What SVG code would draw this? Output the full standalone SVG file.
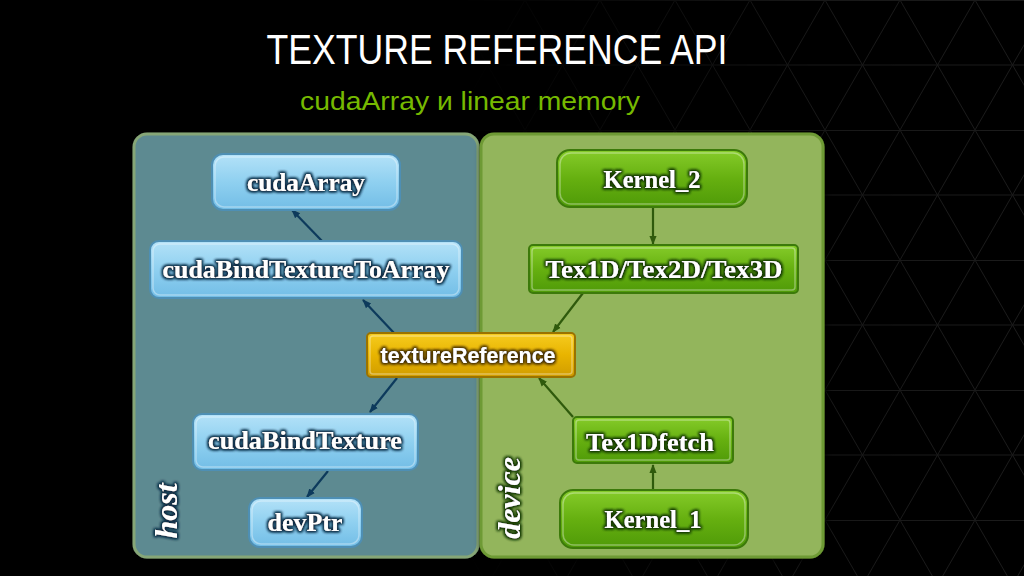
<svg xmlns="http://www.w3.org/2000/svg" width="1024" height="576" viewBox="0 0 1024 576">
<defs>
  <pattern id="tri" x="0" y="0" width="75" height="130" patternUnits="userSpaceOnUse">
    <path d="M0 0 L37.5 65 L0 130 M75 0 L37.5 65 L75 130 M0 0.5 H75 M0 65 H75" fill="none" stroke="#222222" stroke-width="1"/>
  </pattern>
  <linearGradient id="fadeG" x1="0" y1="0" x2="1" y2="0">
    <stop offset="0.45" stop-color="#fff" stop-opacity="0"/>
    <stop offset="0.8" stop-color="#fff" stop-opacity="0.7"/>
    <stop offset="1" stop-color="#fff" stop-opacity="0.8"/>
  </linearGradient>
  <mask id="fade"><rect width="1024" height="576" fill="url(#fadeG)"/></mask>
  <linearGradient id="blueG" x1="0" y1="0" x2="0" y2="1">
    <stop offset="0" stop-color="#b4e2f8"/>
    <stop offset="0.5" stop-color="#8fd0f0"/>
    <stop offset="1" stop-color="#72bde6"/>
  </linearGradient>
  <linearGradient id="greenG" x1="0" y1="0" x2="0" y2="1">
    <stop offset="0" stop-color="#86cc2a"/>
    <stop offset="0.5" stop-color="#66b010"/>
    <stop offset="1" stop-color="#4f9a08"/>
  </linearGradient>
  <linearGradient id="goldG" x1="0" y1="0" x2="0" y2="1">
    <stop offset="0" stop-color="#f6cc20"/>
    <stop offset="0.5" stop-color="#e8b400"/>
    <stop offset="1" stop-color="#d09c00"/>
  </linearGradient>
  <filter id="glowBlue" x="-20%" y="-40%" width="140%" height="180%">
    <feMorphology in="SourceAlpha" operator="dilate" radius="1" result="d"/>
    <feGaussianBlur in="d" stdDeviation="1.8" result="b"/>
    <feFlood flood-color="#0b2c44"/>
    <feComposite in2="b" operator="in" result="s"/>
    <feMerge><feMergeNode in="s"/><feMergeNode in="s"/><feMergeNode in="SourceGraphic"/></feMerge>
  </filter>
  <filter id="glowGreen" x="-20%" y="-40%" width="140%" height="180%">
    <feMorphology in="SourceAlpha" operator="dilate" radius="1" result="d"/>
    <feGaussianBlur in="d" stdDeviation="1.8" result="b"/>
    <feFlood flood-color="#173800"/>
    <feComposite in2="b" operator="in" result="s"/>
    <feMerge><feMergeNode in="s"/><feMergeNode in="s"/><feMergeNode in="SourceGraphic"/></feMerge>
  </filter>
  <filter id="glowGold" x="-20%" y="-40%" width="140%" height="180%">
    <feMorphology in="SourceAlpha" operator="dilate" radius="1" result="d"/>
    <feGaussianBlur in="d" stdDeviation="1.8" result="b"/>
    <feFlood flood-color="#4a3400"/>
    <feComposite in2="b" operator="in" result="s"/>
    <feMerge><feMergeNode in="s"/><feMergeNode in="s"/><feMergeNode in="SourceGraphic"/></feMerge>
  </filter>
  <filter id="panelShadow" x="-10%" y="-10%" width="120%" height="120%">
    <feGaussianBlur in="SourceAlpha" stdDeviation="3" result="b"/>
    <feOffset dx="2" dy="2" in="b" result="o"/>
    <feMerge><feMergeNode in="o"/><feMergeNode in="SourceGraphic"/></feMerge>
  </filter>
  <marker id="arrB" viewBox="0 0 10 10" refX="9" refY="5" markerWidth="9" markerHeight="9" markerUnits="userSpaceOnUse" orient="auto">
    <path d="M0 1 L10 5 L0 9 Z" fill="#0d3a5c"/>
  </marker>
  <marker id="arrG" viewBox="0 0 10 10" refX="9" refY="5" markerWidth="9" markerHeight="9" markerUnits="userSpaceOnUse" orient="auto">
    <path d="M0 1 L10 5 L0 9 Z" fill="#2f5a0c"/>
  </marker>
  <style>
    .title { font-family: "Liberation Sans", Arial, sans-serif; fill: #ffffff; }
    .sub { font-family: "Liberation Sans", Arial, sans-serif; fill: #76b900; }
    .blue { fill: url(#blueG); stroke: #4e8fb4; stroke-width: 2; }
    .green { fill: url(#greenG); stroke: #3c7a0a; stroke-width: 2; }
    .gold { fill: url(#goldG); stroke: #9a7200; stroke-width: 2; }
    .hl { fill: none; stroke: #ffffff; stroke-opacity: 0.35; stroke-width: 1.5; }
    .lblB { font-family: "Liberation Serif", "DejaVu Serif", serif; font-weight: bold; fill: #ffffff; filter: url(#glowBlue); text-anchor: middle; }
    .lblG { font-family: "Liberation Serif", "DejaVu Serif", serif; font-weight: bold; fill: #ffffff; filter: url(#glowGreen); text-anchor: middle; }
    .side { font-family: "Liberation Serif", "DejaVu Serif", serif; font-weight: bold; font-style: italic; fill: #ffffff; }
    .cB { stroke: #0d3a5c; stroke-width: 2.2; fill: none; marker-end: url(#arrB); }
    .cG { stroke: #2f5a0c; stroke-width: 2.2; fill: none; marker-end: url(#arrG); }
  </style>
</defs>

<rect width="1024" height="576" fill="#000000"/>
<rect width="1024" height="576" fill="url(#tri)" mask="url(#fade)"/>

<text class="title" x="497" y="64" font-size="42" text-anchor="middle" textLength="461" lengthAdjust="spacingAndGlyphs">TEXTURE REFERENCE API</text>
<text class="sub" x="470" y="110" font-size="25" text-anchor="middle" textLength="340" lengthAdjust="spacingAndGlyphs">cudaArray и linear memory</text>

<g id="panel-host" filter="url(#panelShadow)">
  <rect x="134" y="134" width="344" height="423" rx="13" fill="#5d8a91" stroke="#86a677" stroke-width="3"/>
  <text class="side" transform="translate(177 511) rotate(-90)" font-size="32" text-anchor="middle" filter="url(#glowBlue)">host</text>
</g>
<g id="panel-device" filter="url(#panelShadow)">
  <rect x="481" y="134" width="342" height="423" rx="13" fill="#93b55b" stroke="#6e9a34" stroke-width="3"/>
  <text class="side" transform="translate(520 498) rotate(-90)" font-size="32" text-anchor="middle" filter="url(#glowGreen)">device</text>
</g>

<g id="connectors">
  <line class="cB" x1="322" y1="241" x2="292" y2="210"/>
  <line class="cB" x1="394" y1="333" x2="363" y2="300"/>
  <line class="cB" x1="397" y1="378" x2="370" y2="412"/>
  <line class="cB" x1="328" y1="471" x2="307" y2="497"/>
  <line class="cG" x1="653" y1="207" x2="653" y2="244"/>
  <line class="cG" x1="583" y1="293" x2="553" y2="332"/>
  <line class="cG" x1="573" y1="417" x2="539" y2="378"/>
  <line class="cG" x1="653" y1="490" x2="653" y2="465"/>
</g>

<g id="node-cudaArray">
  <rect class="blue" x="212" y="154" width="188" height="56" rx="11"/>
  <rect class="hl" x="215" y="157" width="182" height="50" rx="9"/>
  <text class="lblB" x="306" y="191" font-size="25" textLength="118" lengthAdjust="spacingAndGlyphs">cudaArray</text>
</g>
<g id="node-cudaBindTextureToArray">
  <rect class="blue" x="150" y="241" width="312" height="57" rx="9"/>
  <rect class="hl" x="153" y="244" width="306" height="51" rx="7"/>
  <text class="lblB" x="306" y="278" font-size="25" textLength="287" lengthAdjust="spacingAndGlyphs">cudaBindTextureToArray</text>
</g>
<g id="node-cudaBindTexture">
  <rect class="blue" x="193" y="414" width="225" height="56" rx="9"/>
  <rect class="hl" x="196" y="417" width="219" height="50" rx="7"/>
  <text class="lblB" x="305" y="449" font-size="25" textLength="194" lengthAdjust="spacingAndGlyphs">cudaBindTexture</text>
</g>
<g id="node-devPtr">
  <rect class="blue" x="249" y="498" width="113" height="49" rx="11"/>
  <rect class="hl" x="252" y="501" width="107" height="43" rx="9"/>
  <text class="lblB" x="305" y="531" font-size="25" textLength="75" lengthAdjust="spacingAndGlyphs">devPtr</text>
</g>

<g id="node-textureReference">
  <rect class="gold" x="367" y="333" width="208" height="44" rx="4"/>
  <rect class="hl" x="370" y="336" width="202" height="38" rx="3"/>
  <text x="468" y="363" font-family="'Liberation Sans', Arial, sans-serif" font-weight="bold" font-size="22" fill="#ffffff" text-anchor="middle" filter="url(#glowGold)" textLength="175" lengthAdjust="spacingAndGlyphs">textureReference</text>
</g>

<g id="node-Kernel_2">
  <rect class="green" x="557" y="150" width="190" height="57" rx="13"/>
  <rect class="hl" x="560" y="153" width="184" height="51" rx="11"/>
  <text class="lblG" x="652" y="188" font-size="25" textLength="97" lengthAdjust="spacingAndGlyphs">Kernel_2</text>
</g>
<g id="node-Tex1D">
  <rect class="green" x="529" y="245" width="269" height="48" rx="4"/>
  <rect class="hl" x="532" y="248" width="263" height="42" rx="3"/>
  <text class="lblG" x="664" y="278" font-size="25" textLength="237" lengthAdjust="spacingAndGlyphs">Tex1D/Tex2D/Tex3D</text>
</g>
<g id="node-Tex1Dfetch">
  <rect class="green" x="573" y="417" width="160" height="46" rx="4"/>
  <rect class="hl" x="576" y="420" width="154" height="40" rx="3"/>
  <text class="lblG" x="650" y="451" font-size="25" textLength="128" lengthAdjust="spacingAndGlyphs">Tex1Dfetch</text>
</g>
<g id="node-Kernel_1">
  <rect class="green" x="560" y="490" width="188" height="58" rx="13"/>
  <rect class="hl" x="563" y="493" width="182" height="52" rx="11"/>
  <text class="lblG" x="653" y="528" font-size="25" textLength="97" lengthAdjust="spacingAndGlyphs">Kernel_1</text>
</g>
</svg>
